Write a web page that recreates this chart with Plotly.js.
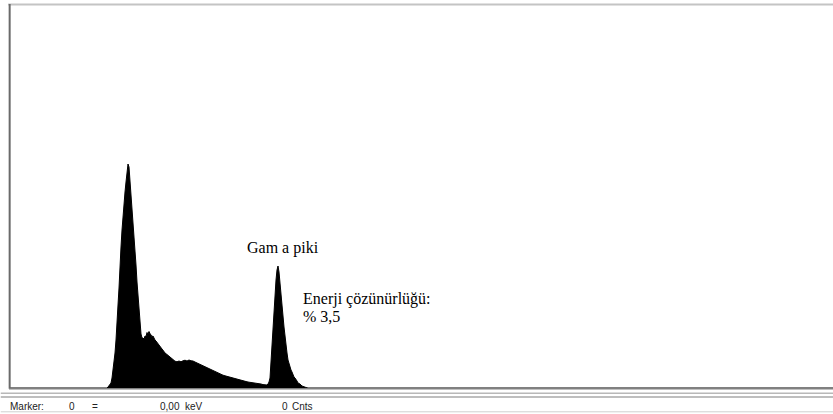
<!DOCTYPE html>
<html>
<head>
<meta charset="utf-8">
<script src="https://cdn.plot.ly/plotly-3.0.1.min.js"></script>
<style>
  html, body { margin: 0; padding: 0; background: #ffffff; }
  #chart { width: 833px; height: 414px; }
</style>
</head>
<body>
<div id="chart"></div>
<script>
// Channel numbers and counts
const channels = [
  0, 91, 98, 99, 101, 102, 103, 104, 105, 106, 107, 108, 109, 110, 111, 112, 113, 114, 115, 116,
  117, 118, 119, 120, 121, 122, 123, 124, 125, 126, 127, 128, 129, 130, 131, 132, 133, 134, 135, 136,
  137, 138, 139, 140, 141, 142, 143, 144, 145, 146, 147, 148, 149, 150, 151, 153, 155, 156, 158, 160,
  162, 164, 166, 168, 170, 172, 174, 176, 178, 180, 182, 184, 186, 188, 190, 192, 194, 196, 198, 200,
  202, 204, 206, 208, 210, 212, 214, 216, 218, 220, 222, 224, 226, 228, 230, 232, 234, 236, 238, 240,
  242, 244, 246, 248, 250, 252, 254, 256, 258, 259, 260, 261, 262, 263, 264, 265, 266, 267, 268, 269,
  270, 271, 272, 273, 274, 275, 276, 277, 278, 279, 280, 281, 282, 283, 284, 285, 286, 287, 288, 289,
  291, 293, 295, 297, 299, 824
];
const counts = [
  0, 0, 0, 10, 30, 50, 100, 170, 250, 350, 480, 610, 830, 1000, 1260, 1410, 1580, 1730, 1880, 1960,
  2060, 2160, 2240, 2210, 2080, 1950, 1800, 1640, 1500, 1360, 1230, 1060, 900, 760, 620, 540, 500, 500, 490, 520,
  515, 555, 540, 565, 545, 535, 515, 520, 495, 480, 470, 455, 440, 425, 410, 390, 365, 350, 335, 315,
  300, 285, 268, 262, 270, 262, 272, 278, 270, 280, 272, 270, 260, 250, 240, 232, 220, 212, 200, 192,
  180, 172, 160, 152, 142, 136, 128, 122, 116, 110, 106, 98, 92, 88, 80, 76, 70, 66, 62, 58,
  56, 50, 50, 46, 42, 40, 34, 30, 30, 40, 60, 100, 260, 430, 630, 830, 960, 1080, 1180, 1220,
  1160, 1030, 950, 830, 720, 610, 500, 420, 350, 280, 240, 200, 180, 160, 120, 110, 100, 90, 70, 50,
  40, 20, 10, 5, 0, 0
];

// Texts
const peakLabel = "Gam a piki";
const resLabel1 = "Enerji çözünürlüğü:";
const resLabel2 = "% 3,5";
const statusTexts = ["Marker:", "0", "=", "0,00", "keV", "0", "Cnts"];
const statusX = [-0.0012, 0.0704, 0.0983, 0.1808, 0.211, 0.3289, 0.341];

const trace = {
  x: channels,
  y: counts,
  type: 'scatter',
  mode: 'lines',
  fill: 'tozeroy',
  fillcolor: '#000000',
  line: { color: '#000000', width: 1, shape: 'linear' },
  hoverinfo: 'skip'
};

const serif = "'Liberation Serif', 'Times New Roman', serif";
const sans = "'Liberation Sans', Arial, sans-serif";

const annotations = [
  { text: peakLabel, xref: 'paper', yref: 'paper', x: 0.2864, y: 0.3646, xanchor: 'left', yanchor: 'middle',
    showarrow: false, font: { family: serif, size: 16, color: '#000' } },
  { text: resLabel1, xref: 'paper', yref: 'paper', x: 0.3544, y: 0.2318, xanchor: 'left', yanchor: 'middle',
    showarrow: false, font: { family: serif, size: 16, color: '#000' } },
  { text: resLabel2, xref: 'paper', yref: 'paper', x: 0.3544, y: 0.1849, xanchor: 'left', yanchor: 'middle',
    showarrow: false, font: { family: serif, size: 16, color: '#000' } }
];
statusTexts.forEach((t, i) => {
  annotations.push({ text: t, xref: 'paper', yref: 'paper', x: statusX[i], y: -0.048,
    xanchor: 'left', yanchor: 'middle', showarrow: false,
    font: { family: sans, size: 10, color: '#222' } });
});

const shapes = [
  // top border
  { type: 'line', xref: 'paper', yref: 'paper', x0: -0.001, x1: 1, y0: 0.9987, y1: 0.9987,
    line: { color: '#c4c4c4', width: 2 } },
  // left border
  { type: 'line', xref: 'paper', yref: 'paper', x0: 0.0008, x1: 0.0008, y0: -0.002, y1: 1.0,
    line: { color: '#6a6a6a', width: 2 } },
  // bottom border
  { type: 'line', xref: 'paper', yref: 'paper', x0: 0, x1: 1, y0: -0.002, y1: -0.002,
    line: { color: '#808080', width: 1.5 } },
  // status bar separator lines
  { type: 'line', xref: 'paper', yref: 'paper', x0: -0.01, x1: 1, y0: -0.0135, y1: -0.0135,
    line: { color: '#b8b8b8', width: 1.5 } },
  { type: 'line', xref: 'paper', yref: 'paper', x0: -0.01, x1: 1, y0: -0.0235, y1: -0.0235,
    line: { color: '#a8a8a8', width: 1.5 } },
  { type: 'line', xref: 'paper', yref: 'paper', x0: -0.01, x1: 1, y0: -0.062, y1: -0.062,
    line: { color: '#d0d0d0', width: 1 } }
];

const layout = {
  width: 833,
  height: 414,
  margin: { l: 9, r: 0, t: 4, b: 26 },
  paper_bgcolor: '#ffffff',
  plot_bgcolor: '#ffffff',
  showlegend: false,
  xaxis: { range: [0, 824], visible: false, fixedrange: true },
  yaxis: { range: [0, 3840], visible: false, fixedrange: true },
  annotations: annotations,
  shapes: shapes
};

Plotly.newPlot('chart', [trace], layout, { displayModeBar: false, staticPlot: true });
</script>
</body>
</html>
